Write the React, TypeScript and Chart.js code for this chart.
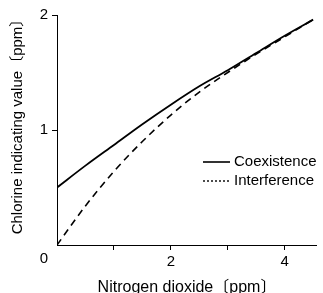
import React, { useEffect, useRef } from "react";
import { Chart, registerables } from "chart.js";

Chart.register(...registerables);

const xValues = [0, 0.5, 1, 1.5, 2, 2.5, 3, 3.5, 4, 4.5];
const coexistence = [0.5, 0.69, 0.87, 1.05, 1.22, 1.38, 1.52, 1.67, 1.82, 1.96];
const interference = [0, 0.34, 0.64, 0.9, 1.13, 1.33, 1.5, 1.66, 1.81, 1.96];
const xTickLabels: Record<number, string> = { 2: "2", 4: "4" };
const yTickLabels: Record<number, string> = { 1: "1", 2: "2" };
const seriesNames = ["Coexistence", "Interference"];
const xTitle = "Nitrogen dioxide〔ppm〕";
const yTitle = "Chlorine indicating value〔ppm〕";
const originLabel = "0";

const FONT = "'Liberation Sans', Arial, 'Noto Sans CJK JP', sans-serif";

const overlayPlugin = {
  id: "overlay",
  afterDraw(chart: any) {
    const ctx = chart.ctx as CanvasRenderingContext2D;
    const area = chart.chartArea;
    ctx.save();
    ctx.fillStyle = "#000";
    ctx.font = `15px ${FONT}`;
    // origin label
    ctx.textAlign = "center";
    ctx.textBaseline = "middle";
    ctx.fillText(originLabel, area.left - 13, area.bottom + 14);
    // x title
    ctx.save();
    ctx.font = `16px ${FONT}`;
    ctx.fillText(xTitle, 187, 288);
    ctx.restore();
    // y title
    ctx.save();
    ctx.translate(18, 123);
    ctx.rotate(-Math.PI / 2);
    ctx.fillText(yTitle, 0, 0);
    ctx.restore();
    // legend
    ctx.strokeStyle = "#000";
    ctx.lineWidth = 1.6;
    ctx.beginPath();
    ctx.moveTo(203, 162);
    ctx.lineTo(230, 162);
    ctx.stroke();
    ctx.setLineDash([2, 2]);
    ctx.lineWidth = 1.4;
    ctx.beginPath();
    ctx.moveTo(203, 181);
    ctx.lineTo(230, 181);
    ctx.stroke();
    ctx.setLineDash([]);
    ctx.textAlign = "left";
    ctx.fillText(seriesNames[0], 234, 162);
    ctx.fillText(seriesNames[1], 234, 181);
    ctx.restore();
  },
};

export default function App() {
  const ref = useRef<HTMLCanvasElement>(null);
  useEffect(() => {
    if (!ref.current) return;
    const chart = new Chart(ref.current, {
      type: "line",
      data: {
        datasets: [
          {
            label: seriesNames[0],
            data: xValues.map((x, i) => ({ x, y: coexistence[i] })),
            borderColor: "#000",
            borderWidth: 1.8,
            pointRadius: 0,
            cubicInterpolationMode: "monotone",
            fill: false,
          },
          {
            label: seriesNames[1],
            data: xValues.map((x, i) => ({ x, y: interference[i] })),
            borderColor: "#000",
            borderWidth: 1.6,
            borderDash: [7, 5],
            pointRadius: 0,
            cubicInterpolationMode: "monotone",
            fill: false,
          },
        ],
      },
      options: {
        animation: false,
        responsive: false,
        maintainAspectRatio: false,
        layout: { padding: { top: 15, right: 7, left: 0, bottom: 0 } },
        plugins: { legend: { display: false }, tooltip: { enabled: false } },
        scales: {
          x: {
            type: "linear",
            min: 0,
            max: 4.55,
            afterFit: (s: any) => {
              s.height = 48;
            },
            afterBuildTicks: (s: any) => {
              s.ticks = [0, 1, 2, 3, 4].map((v) => ({ value: v }));
            },
            border: { display: true, color: "#000", width: 1 },
            grid: {
              drawOnChartArea: false,
              drawTicks: true,
              tickLength: 5,
              color: (c: any) => (c.tick && c.tick.value === 0 ? "rgba(0,0,0,0)" : "#000"),
            },
            ticks: {
              color: "#000",
              padding: 3,
              maxRotation: 0,
              autoSkip: false,
              font: { family: FONT, size: 15 },
              callback: (v: any) => xTickLabels[v as number] ?? "",
            },
          },
          y: {
            type: "linear",
            min: 0,
            max: 2,
            afterFit: (s: any) => {
              s.width = 57;
            },
            afterBuildTicks: (s: any) => {
              s.ticks = [0, 1, 2].map((v) => ({ value: v }));
            },
            border: { display: true, color: "#000", width: 1 },
            grid: {
              drawOnChartArea: false,
              drawTicks: true,
              tickLength: 5,
              color: (c: any) => (c.tick && c.tick.value === 0 ? "rgba(0,0,0,0)" : "#000"),
            },
            ticks: {
              color: "#000",
              padding: 4,
              autoSkip: false,
              font: { family: FONT, size: 15 },
              callback: (v: any) => yTickLabels[v as number] ?? "",
            },
          },
        },
      },
      plugins: [overlayPlugin],
    } as any);
    return () => chart.destroy();
  }, []);
  return (
    <div style={{ position: "fixed", left: 0, top: 0, width: 323, height: 293, background: "#fff" }}>
      <canvas ref={ref} width={323} height={293} style={{ width: 323, height: 293, display: "block" }} />
    </div>
  );
}
